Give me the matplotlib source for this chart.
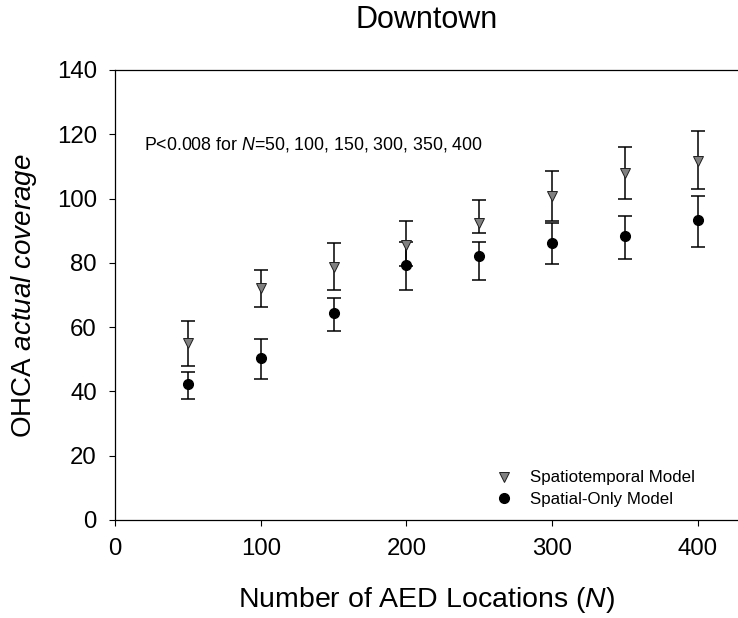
import matplotlib
matplotlib.use("Agg")
import matplotlib.pyplot as plt
from matplotlib.lines import Line2D
import numpy as np

plt.rcParams['font.family'] = ['Liberation Sans', 'DejaVu Sans']
plt.rcParams['mathtext.fontset'] = 'custom'
plt.rcParams['mathtext.rm'] = 'Liberation Sans'
plt.rcParams['mathtext.it'] = 'Liberation Sans:italic'

# Data
n_locations = [50, 100, 150, 200, 250, 300, 350, 400]
st_mean = [55.0, 72.1, 78.6, 85.7, 92.5, 100.8, 107.9, 111.7]
st_upper = [62.0, 77.8, 86.3, 93.0, 99.6, 108.7, 116.2, 121.0]
st_lower = [48.0, 66.3, 71.6, 79.0, 89.4, 93.1, 99.8, 103.0]
sp_mean = [42.3, 50.3, 64.3, 79.3, 82.2, 86.3, 88.4, 93.2]
sp_upper = [46.2, 56.4, 69.2, 86.5, 86.5, 92.3, 94.7, 100.8]
sp_lower = [37.8, 43.8, 58.8, 71.6, 74.7, 79.7, 81.2, 85.0]
x_ticks = [0, 100, 200, 300, 400]
y_ticks = [0, 20, 40, 60, 80, 100, 120, 140]
title = "Downtown"
note = "P<0.008 for $\\it{N}$=50, 100, 150, 300, 350, 400"
labels = ["Spatiotemporal Model", "Spatial-Only Model"]

W, H = 738, 618
fig = plt.figure(figsize=(W / 100, H / 100), dpi=100)
ax = fig.add_axes([115 / W, 98 / H, 1 - 115 / W, 450 / H])

x = np.array(n_locations)
st_m = np.array(st_mean)
sp_m = np.array(sp_mean)
ax.errorbar(x, st_m, yerr=[st_m - np.array(st_lower), np.array(st_upper) - st_m],
            fmt='none', ecolor='black', elinewidth=1.1, capsize=4.8, capthick=1.1, zorder=2)
ax.errorbar(x, sp_m, yerr=[sp_m - np.array(sp_lower), np.array(sp_upper) - sp_m],
            fmt='none', ecolor='black', elinewidth=1.1, capsize=4.8, capthick=1.1, zorder=2)
ax.plot(x, st_m, linestyle='none', marker='v', markersize=7.8, markerfacecolor='#808080',
        markeredgecolor='#202020', markeredgewidth=0.7, zorder=3)
ax.plot(x, sp_m, linestyle='none', marker='o', markersize=7, markerfacecolor='black',
        markeredgecolor='black', zorder=3)

ax.set_xlim(0, 427.6)
ax.set_ylim(0, 140)
ax.set_xticks(x_ticks)
ax.set_yticks(y_ticks)
ax.spines['right'].set_visible(False)
for s in ['left', 'bottom', 'top']:
    ax.spines[s].set_linewidth(0.9)
ax.tick_params(direction='out', length=4, width=0.8, labelsize=17.3, pad=9,
               top=False, right=False)

fig.text(0.5 * (115 + W) / W, 1 - 20 / H, title, fontsize=22, ha='center', va='center')
fig.text((115 + 0.5 * (W - 115)) / W, 1 - 600 / H, "Number of AED Locations ($\\it{N}$)",
         fontsize=20.5, ha='center', va='center')
fig.text(24 / W, 1 - 296 / H, "OHCA $\\it{actual\\ coverage}$", fontsize=20,
         ha='center', va='center', rotation=90)

ax.text(20, 116.7, note, fontsize=12.8, va='center', ha='left')

handles = [
    Line2D([], [], linestyle='none', marker='v', markersize=7.8, markerfacecolor='#808080',
           markeredgecolor='#202020', markeredgewidth=0.7),
    Line2D([], [], linestyle='none', marker='o', markersize=7, markerfacecolor='black',
           markeredgecolor='black'),
]
ax.legend(handles, labels, loc='center left', bbox_to_anchor=(0.578, 0.07), frameon=False,
          fontsize=12.2, handletextpad=0.54, labelspacing=0.36, borderpad=0.2)

fig.savefig("out.png", dpi=100)
